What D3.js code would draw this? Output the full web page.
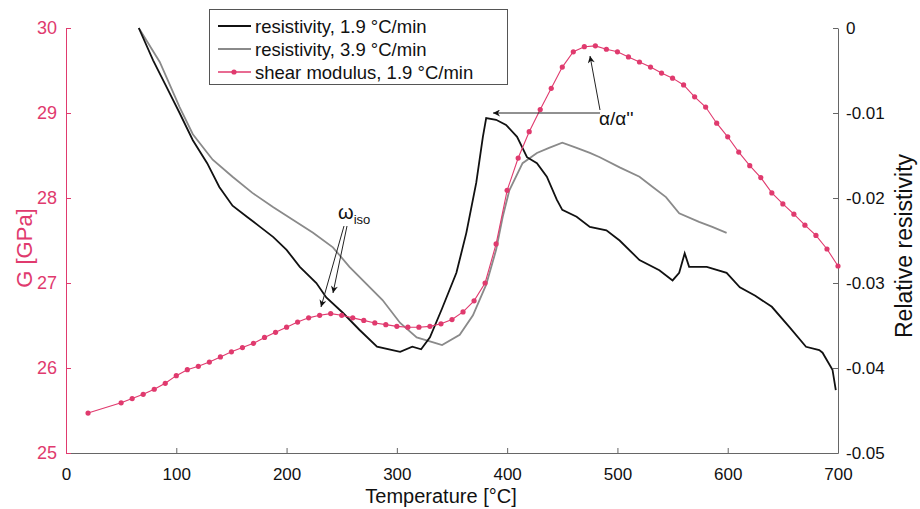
<!DOCTYPE html>
<html>
<head>
<meta charset="utf-8">
<script src="https://cdn.jsdelivr.net/npm/d3@7"></script>
<style>
  body { margin: 0; background: #fff; }
  svg text { font-family: "Liberation Sans", Arial, sans-serif; }
</style>
</head>
<body>
<div id="chart"></div>
<script>
// data

// shear modulus, 1.9 C/min (left axis, GPa)
const shearT = [20, 50, 60, 70, 80, 90, 100, 110, 120, 130, 140, 150, 160, 170, 180, 190, 200,
  210, 220, 230, 240, 250, 260, 270, 280, 290, 300, 310, 320, 330, 340, 350, 360, 370, 380, 390,
  400, 410, 420, 430, 440, 450, 460, 470, 480, 490, 500, 510, 520, 530, 540, 550, 560, 570, 580,
  590, 600, 610, 620, 630, 640, 650, 660, 670, 680, 690, 700];
const shearG = [25.47, 25.59, 25.64, 25.69, 25.75, 25.82, 25.91, 25.98, 26.02, 26.07, 26.13, 26.19,
  26.24, 26.29, 26.36, 26.42, 26.48, 26.54, 26.59, 26.62, 26.64, 26.62, 26.59, 26.56, 26.53, 26.51,
  26.49, 26.48, 26.48, 26.49, 26.52, 26.57, 26.66, 26.79, 27.0, 27.46, 28.09, 28.47, 28.78, 29.04,
  29.29, 29.54, 29.72, 29.78, 29.79, 29.75, 29.72, 29.66, 29.6, 29.54, 29.47, 29.41, 29.33, 29.19,
  29.07, 28.88, 28.72, 28.54, 28.38, 28.24, 28.06, 27.93, 27.81, 27.68, 27.56, 27.40, 27.20];

// resistivity, 1.9 C/min (right axis, relative)
const res19T = [66, 79, 91, 103, 115, 128, 139, 151, 164, 176, 188, 200, 212, 227, 236, 251, 266,
  282, 296, 303, 314, 322, 330, 341, 354, 363, 372, 378, 381, 390, 399, 409, 418, 427, 436, 445, 450,
  463, 475, 490, 502, 520, 538, 550, 556, 561, 565, 581, 599, 611, 625, 640, 656, 671, 683, 686,
  695, 698];
const res19V = [0, -0.0038, -0.0069, -0.0100, -0.0132, -0.0159, -0.0187, -0.0209, -0.0222, -0.0234,
  -0.0246, -0.0261, -0.0281, -0.0300, -0.0317, -0.0335, -0.0355, -0.0375, -0.0379, -0.0381, -0.0375,
  -0.0378, -0.0364, -0.0330, -0.0288, -0.0241, -0.0182, -0.0128, -0.0106, -0.0108, -0.0114, -0.0128,
  -0.0152, -0.0159, -0.0175, -0.0202, -0.0214, -0.0222, -0.0234, -0.0238, -0.0250, -0.0273, -0.0285,
  -0.0297, -0.0288, -0.0265, -0.0281, -0.0281, -0.0288, -0.0305, -0.0315, -0.0328, -0.0352, -0.0375,
  -0.0379, -0.0382, -0.0402, -0.0426];

// resistivity, 3.9 C/min (right axis, relative)
const res39T = [66, 85, 103, 115, 133, 151, 169, 188, 206, 224, 242, 257, 287, 303, 318, 336, 341,
  357, 369, 381, 390, 396, 402, 414, 427, 438, 450, 463, 475, 484, 502, 520, 532, 544, 556, 574,
  586, 599];
const res39V = [0, -0.0040, -0.0093, -0.0125, -0.0155, -0.0175, -0.0194, -0.0211, -0.0226, -0.0241,
  -0.0258, -0.0281, -0.0320, -0.0347, -0.0364, -0.0371, -0.0373, -0.0361, -0.0338, -0.0302, -0.0261,
  -0.0222, -0.0191, -0.0159, -0.0147, -0.0141, -0.0135, -0.0141, -0.0147, -0.0152, -0.0164, -0.0175,
  -0.0187, -0.0199, -0.0218, -0.0228, -0.0234, -0.0241];

const xTicks = [0, 100, 200, 300, 400, 500, 600, 700];
const gTicks = [25, 26, 27, 28, 29, 30];
const rTicks = [-0.05, -0.04, -0.03, -0.02, -0.01, 0];

const legendLabels = ["resistivity, 1.9 \u00B0C/min", "resistivity, 3.9 \u00B0C/min", "shear modulus, 1.9 \u00B0C/min"];

function drawChart() {
    const width = 920;
    const height = 509;
    const pink = "#e03a6e";
    const axisGrey = "#666";

    const svg = d3.select("#chart")
        .append("svg")
        .attr("width", width)
        .attr("height", height);

    const x = d3.scaleLinear().domain([0, 700]).range([66, 838]);
    const yL = d3.scaleLinear().domain([25, 30]).range([453, 28]);
    const yR = d3.scaleLinear().domain([-0.05, 0]).range([453, 28]);

    // axes (ticks inside, matlab style)
    const xAxis = svg.append("g")
        .attr("transform", "translate(0,453)")
        .call(d3.axisBottom(x).tickValues(xTicks).tickSizeInner(-5).tickSizeOuter(0).tickPadding(15));
    xAxis.select(".domain").attr("stroke", axisGrey);
    xAxis.selectAll(".tick line").attr("stroke", axisGrey);
    xAxis.selectAll("text").attr("font-size", 17).attr("fill", "#111");

    const leftAxis = svg.append("g")
        .attr("transform", "translate(66,0)")
        .call(d3.axisLeft(yL).tickValues(gTicks).tickSizeInner(-5).tickSizeOuter(0).tickPadding(9)
            .tickFormat(d3.format("d")));
    leftAxis.select(".domain").attr("stroke", pink);
    leftAxis.selectAll(".tick line").attr("stroke", pink);
    leftAxis.selectAll("text").attr("font-size", 18).attr("fill", pink);

    const rightAxis = svg.append("g")
        .attr("transform", "translate(838,0)")
        .call(d3.axisRight(yR).tickValues(rTicks).tickSizeInner(-5).tickSizeOuter(0).tickPadding(8)
            .tickFormat((d) => d === 0 ? "0" : d3.format(".2f")(d).replace("\u2212", "-")));
    rightAxis.select(".domain").attr("stroke", axisGrey);
    rightAxis.selectAll(".tick line").attr("stroke", axisGrey);
    rightAxis.selectAll("text").attr("font-size", 17).attr("fill", "#111");

    // axis titles
    svg.append("text")
        .attr("x", 441).attr("y", 503)
        .attr("text-anchor", "middle").attr("font-size", 20).attr("fill", "#111")
        .text("Temperature [\u00B0C]");
    svg.append("text")
        .attr("transform", "translate(32,248) rotate(-90)")
        .attr("text-anchor", "middle").attr("font-size", 22).attr("fill", pink)
        .text("G [GPa]");
    svg.append("text")
        .attr("transform", "translate(912,246) rotate(-90)")
        .attr("text-anchor", "middle").attr("font-size", 23).attr("fill", "#111")
        .text("Relative resistivity");

    // lines
    const lineR = d3.line().x((d) => x(d[0])).y((d) => yR(d[1]));
    const lineG = d3.line().x((d) => x(d[0])).y((d) => yL(d[1]));

    svg.append("path")
        .datum(d3.zip(res39T, res39V))
        .attr("fill", "none").attr("stroke", "#8a8a8a").attr("stroke-width", 1.8)
        .attr("d", lineR);

    svg.append("path")
        .datum(d3.zip(res19T, res19V))
        .attr("fill", "none").attr("stroke", "#111").attr("stroke-width", 1.8)
        .attr("d", lineR);

    const shearData = d3.zip(shearT, shearG);
    svg.append("path")
        .datum(shearData)
        .attr("fill", "none").attr("stroke", pink).attr("stroke-width", 1.1)
        .attr("d", lineG);
    svg.selectAll(".shear-dot")
        .data(shearData)
        .enter()
        .append("circle")
        .attr("class", "shear-dot")
        .attr("cx", (d) => x(d[0]))
        .attr("cy", (d) => yL(d[1]))
        .attr("r", 2.6)
        .attr("fill", pink);

    // annotations
    const defs = svg.append("defs");
    defs.append("marker")
        .attr("id", "arrow")
        .attr("viewBox", "0 0 10 10")
        .attr("refX", 10).attr("refY", 5)
        .attr("markerWidth", 10).attr("markerHeight", 7)
        .attr("markerUnits", "userSpaceOnUse")
        .attr("orient", "auto")
        .append("path")
        .attr("d", "M0,0 L10,5 L0,10 L3,5 Z")
        .attr("fill", "#111");

    const arrows = [
        [344, 226, 321, 307],
        [347, 226, 333, 293],
        [600, 113, 493, 113],
        [600, 110, 590, 56]
    ];
    svg.selectAll(".annot")
        .data(arrows)
        .enter()
        .append("line")
        .attr("class", "annot")
        .attr("x1", (d) => d[0]).attr("y1", (d) => d[1])
        .attr("x2", (d) => d[2]).attr("y2", (d) => d[3])
        .attr("stroke", "#222").attr("stroke-width", 1)
        .attr("marker-end", "url(#arrow)");

    const omega = svg.append("text")
        .attr("x", 338).attr("y", 219)
        .attr("font-size", 20).attr("fill", "#111");
    omega.append("tspan").text("\u03C9");
    omega.append("tspan").attr("font-size", 13).attr("dy", 5).text("iso");

    svg.append("text")
        .attr("x", 599).attr("y", 125)
        .attr("font-size", 19).attr("fill", "#111")
        .text("\u03B1/\u03B1''");

    // legend
    const legend = svg.append("g").attr("class", "legend");
    legend.append("rect")
        .attr("x", 209.5).attr("y", 9.5)
        .attr("width", 298).attr("height", 75)
        .attr("fill", "#fff").attr("stroke", "#555").attr("stroke-width", 1);

    const legendColors = ["#111", "#8a8a8a", pink];
    legendLabels.forEach(function(label, i) {
        const ly = 26 + i * 23;
        legend.append("line")
            .attr("x1", 218).attr("x2", 251)
            .attr("y1", ly).attr("y2", ly)
            .attr("stroke", legendColors[i]).attr("stroke-width", i === 2 ? 1.4 : 1.8);
        if (i === 2) {
            legend.append("circle").attr("cx", 234).attr("cy", ly).attr("r", 2.6).attr("fill", pink);
        }
        legend.append("text")
            .attr("x", 255).attr("y", ly + 6.5)
            .attr("font-size", 18.5).attr("fill", "#111")
            .text(label);
    });
}

drawChart();
</script>
</body>
</html>
